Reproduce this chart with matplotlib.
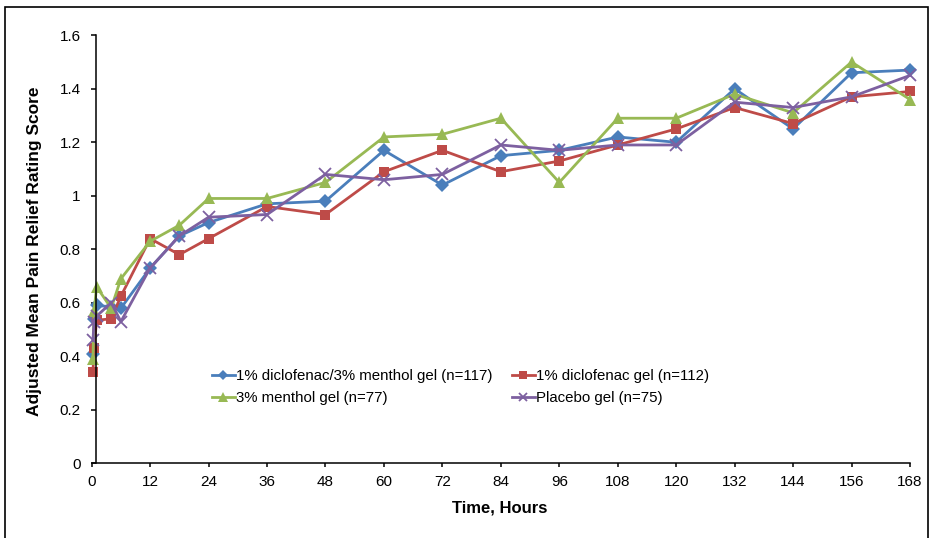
import matplotlib
matplotlib.use("Agg")
import matplotlib.pyplot as plt
from matplotlib.patches import Rectangle

plt.rcParams['font.family'] = ['Liberation Sans', 'DejaVu Sans']

hours = [0.25, 0.5, 1, 4, 6, 12, 18, 24, 36, 48, 60, 72, 84, 96, 108, 120, 132, 144, 156, 168]

combo = [0.41, 0.54, 0.59, 0.585, 0.58, 0.73, 0.85, 0.90, 0.97, 0.98, 1.17, 1.04, 1.15, 1.17, 1.22, 1.20, 1.40, 1.25, 1.46, 1.47]
diclo = [0.34, 0.43, 0.535, 0.54, 0.625, 0.84, 0.78, 0.84, 0.96, 0.93, 1.09, 1.17, 1.09, 1.13, 1.19, 1.25, 1.33, 1.27, 1.37, 1.39]
menthol = [0.39, 0.57, 0.66, 0.58, 0.69, 0.83, 0.89, 0.99, 0.99, 1.05, 1.22, 1.23, 1.29, 1.05, 1.29, 1.29, 1.38, 1.31, 1.50, 1.36]
placebo = [0.46, 0.53, 0.55, 0.60, 0.53, 0.73, 0.85, 0.92, 0.93, 1.08, 1.06, 1.08, 1.19, 1.17, 1.19, 1.19, 1.35, 1.33, 1.37, 1.45]

labels = ["1% diclofenac/3% menthol gel (n=117)", "1% diclofenac gel (n=112)",
          "3% menthol gel (n=77)", "Placebo gel (n=75)"]
x_ticks = [0, 12, 24, 36, 48, 60, 72, 84, 96, 108, 120, 132, 144, 156, 168]
y_ticks = [0, 0.2, 0.4, 0.6, 0.8, 1.0, 1.2, 1.4, 1.6]
y_ticklabels = ["0", "0.2", "0.4", "0.6", "0.8", "1", "1.2", "1.4", "1.6"]

W, H = 936, 538
fig = plt.figure(figsize=(W / 100, H / 100), dpi=100)
ax = fig.add_axes([91.7 / W, 1 - 463.3 / H, (910 - 91.7) / W, (463.3 - 35.3) / H])

styles = [
    (combo, '#4A7EBB', 'D', 6.8),
    (diclo, '#BE4B48', 's', 7.8),
    (menthol, '#98B954', '^', 8.3),
    (placebo, '#7D60A0', 'x', 8),
]
handles = []
for (vals, col, mk, ms), lab in zip(styles, labels):
    kw = dict(color=col, lw=2.0, marker=mk, markersize=ms, clip_on=False, label=lab)
    if mk == 'x':
        kw.update(markeredgewidth=1.3)
    else:
        kw.update(markeredgewidth=0)
    h, = ax.plot(hours, vals, **kw)
    handles.append(h)

ax.set_xlim(0, 168)
ax.set_ylim(0, 1.6)
ax.spines['top'].set_visible(False)
ax.spines['right'].set_visible(False)
ax.spines['left'].set_position(('data', 0.8))
for s in ('left', 'bottom'):
    ax.spines[s].set_linewidth(1.1)
ax.set_xticks(x_ticks)
ax.set_yticks(y_ticks)
ax.set_yticklabels(y_ticklabels)
ax.tick_params(axis='y', direction='out', length=3.3, width=1.1, pad=7.5, labelsize=11)
ax.tick_params(axis='x', direction='out', length=3.0, width=1.1, pad=5.5, labelsize=11)

fig.text(35 / W, 1 - 251 / H, "Adjusted Mean Pain Relief Rating Score", rotation=90,
         ha='center', va='center', fontsize=12.5, fontweight='bold')
fig.text(500 / W, 1 - 508 / H, "Time, Hours", ha='center', va='center',
         fontsize=12, fontweight='bold')

# row-wise legend order: combo, diclo on row 1; menthol, placebo on row 2
order = [0, 2, 1, 3]
ax.legend(handles=[handles[i] for i in order], ncol=2, frameon=False, fontsize=10.8,
          loc='upper left',
          bbox_to_anchor=((211.7 - 91.7) / (910 - 91.7), 1 - (369 - 35.3) / (463.3 - 35.3)),
          borderpad=0, borderaxespad=0, handlelength=1.55, handletextpad=0.1,
          columnspacing=1.25, labelspacing=0.55, markerscale=0.8)

fig.patches.append(Rectangle((5 / W, -0.05), (928 - 5) / W, 1.05 - 7 / H,
                             transform=fig.transFigure, fill=False, lw=1.2,
                             edgecolor='black'))

fig.savefig("out.png", dpi=100)
